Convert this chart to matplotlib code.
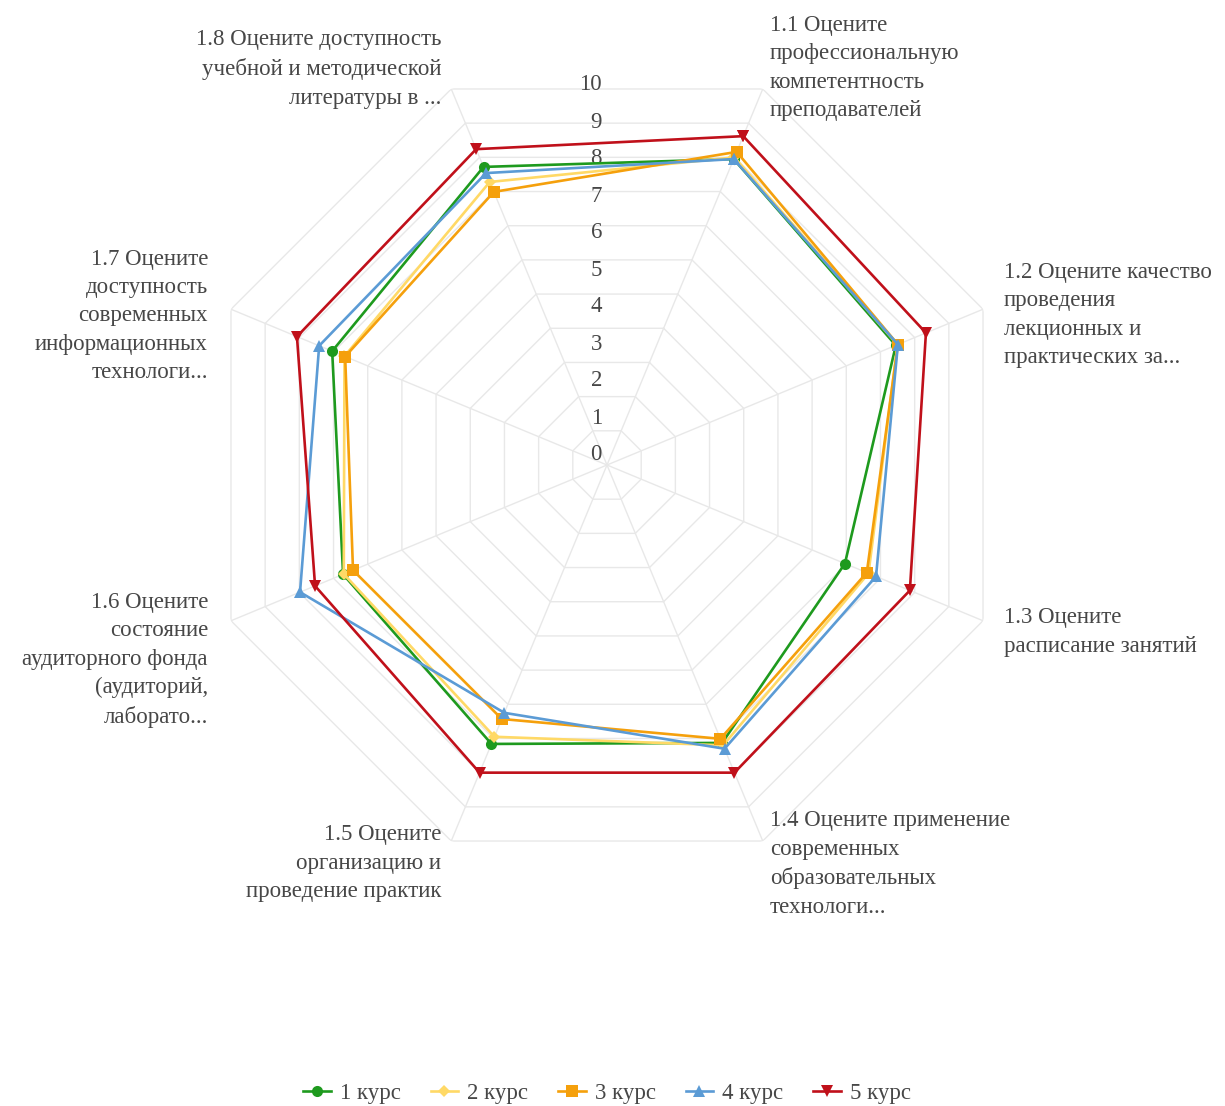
import matplotlib
matplotlib.use('Agg')
import matplotlib.pyplot as plt
import numpy as np

plt.rcParams.update({
    'font.family': ['Liberation Serif', 'DejaVu Serif'],
    'font.size': 16.5,
    'text.color': '#474747',
})

# === data ===
categories = [
    '1.1 Оцените\nпрофессиональную\nкомпетентность\nпреподавателей',
    '1.2 Оцените качество\nпроведения\nлекционных и\nпрактических за...',
    '1.3 Оцените\nрасписание занятий',
    '1.4 Оцените применение\nсовременных\nобразовательных\nтехнологи...',
    '1.5 Оцените\nорганизацию и\nпроведение практик',
    '1.6 Оцените\nсостояние\nаудиторного фонда\n(аудиторий,\nлаборато...',
    '1.7 Оцените\nдоступность\nсовременных\nинформационных\nтехнологи...',
    '1.8 Оцените доступность\nучебной и методической\nлитературы в ...',
]
series_names = ['1 курс', '2 курс', '3 курс', '4 курс', '5 курс']
kurs1 = [8.95, 8.45, 6.96, 8.13, 8.16, 7.72, 8.04, 8.72]
kurs2 = [9.00, 8.50, 7.65, 8.20, 7.95, 7.70, 7.68, 8.28]
kurs3 = [9.16, 8.51, 7.60, 8.01, 7.43, 7.43, 7.66, 7.99]
kurs4 = [8.95, 8.51, 7.87, 8.30, 7.25, 8.98, 8.42, 8.54]
kurs5 = [9.62, 9.33, 8.86, 9.00, 9.00, 8.54, 9.07, 9.24]
tick_values = list(range(0, 11))

colors = ['#1E9A1E', '#FFD966', '#F5A00C', '#5B9BD5', '#C0101A']
markers = ['o', 'D', 's', '^', 'v']
msizes = [8, 6, 8, 8, 8]
text_c = '#474747'

W, H = 1225, 1106
fig = plt.figure(figsize=(W / 100, H / 100), dpi=100)

# polar axes: centre (607, 465) px, 37 px per unit, 11 rings
cx, cy, unit, n_rings = 607, 465, 37.0, 11
rad = unit * n_rings
ax = fig.add_axes([(cx - rad) / W, (H - cy - rad) / H, 2 * rad / W, 2 * rad / H],
                  projection='polar')
ax.set_theta_zero_location('N')
ax.set_theta_direction(-1)
ax.set_ylim(0, n_rings)
ax.set_xticks([])
ax.set_yticks([])
ax.grid(False)
ax.spines['polar'].set_visible(False)

n = len(categories)
angles = np.deg2rad(22.5 + 45 * np.arange(n))
closed = np.append(angles, angles[0])

grid_c = '#E8E8E8'
for k in range(1, n_rings + 1):
    ax.plot(closed, [k] * (n + 1), color=grid_c, lw=1.0, zorder=1)
for a in angles:
    ax.plot([a, a], [0, n_rings], color=grid_c, lw=1.0, zorder=1)

# value labels along the vertical
for v in tick_values:
    ax.annotate(str(v), xy=(0, v), xytext=(-3.6, 7.2), textcoords='offset points',
                ha='right', va='center', fontsize=16.5, color=text_c, zorder=2)

all_series = [kurs1, kurs2, kurs3, kurs4, kurs5]
for name, vals, c, m, ms in zip(series_names, all_series, colors, markers, msizes):
    ax.plot(closed, vals + vals[:1], color=c, lw=1.9, marker=m, markersize=ms,
            markeredgewidth=0, label=name, zorder=3)

# category labels
label_pos = [
    (770, 68, 'left'), (1004, 315, 'left'), (1004, 632, 'left'), (770, 864, 'left'),
    (441, 863, 'right'), (208, 660, 'right'), (208, 316, 'right'), (441, 69, 'right'),
]
for text, (x, y, ha) in zip(categories, label_pos):
    fig.text(x / W, 1 - y / H, text, ha=ha, va='center', multialignment=ha,
             fontsize=16.5, linespacing=1.46, color=text_c)

fig.legend(loc='center', bbox_to_anchor=(607 / W, 1 - 1093 / H), ncol=5,
           frameon=False, handlelength=1.2, handletextpad=0.4, columnspacing=1.3,
           fontsize=16.5, labelcolor=text_c)

fig.savefig('out.png', dpi=100)
